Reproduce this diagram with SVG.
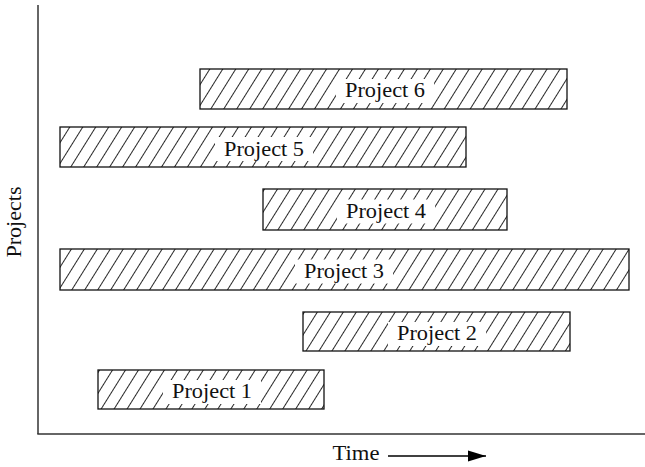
<svg xmlns="http://www.w3.org/2000/svg" width="645" height="467" viewBox="0 0 645 467">
<style>
.bar{fill:url(#hatch);stroke:#111;stroke-width:1.3}
.lbg{fill:#fff;stroke:none}
.lbl{font-family:"Liberation Serif","Times New Roman",serif;font-size:20px;fill:#111;text-anchor:middle}
.axis{stroke:#333;stroke-width:1.5;fill:none}
</style>
<defs>
<pattern id="hatch" patternUnits="userSpaceOnUse" width="11" height="11" patternTransform="rotate(32)">
<rect width="11" height="11" fill="#fff"/>
<line x1="5.5" y1="-1" x2="5.5" y2="12" stroke="#111" stroke-width="0.9"/>
</pattern>
<marker id="arr" markerWidth="18" markerHeight="12" refX="18" refY="6" orient="auto" markerUnits="userSpaceOnUse">
<path d="M0,0.5 L18,6 L0,11.5 Z" fill="#000"/>
</marker>
</defs>
<g id="axes">
<line class="axis" x1="38" y1="5" x2="38" y2="434"/>
<line class="axis" x1="37.3" y1="434" x2="645" y2="434"/>
<text class="lbl" x="0" y="0" transform="translate(21,222) rotate(-90)" textLength="71" lengthAdjust="spacingAndGlyphs">Projects</text>
<text class="lbl" x="356" y="460" textLength="47" lengthAdjust="spacingAndGlyphs">Time</text>
</g>
<g id="connectors">
<line x1="388" y1="456" x2="486" y2="456" stroke="#000" stroke-width="1.5" marker-end="url(#arr)"/>
</g>
<g id="project6">
<rect class="bar" x="200" y="69" width="367" height="40"/>
<rect class="lbg" x="336" y="79" width="98" height="24"/>
<text class="lbl" x="385" y="97" textLength="80" lengthAdjust="spacingAndGlyphs">Project 6</text>
</g>
<g id="project5">
<rect class="bar" x="60" y="127" width="406" height="40"/>
<rect class="lbg" x="215" y="137" width="98" height="24"/>
<text class="lbl" x="264" y="155.5" textLength="80" lengthAdjust="spacingAndGlyphs">Project 5</text>
</g>
<g id="project4">
<rect class="bar" x="263" y="189" width="244" height="41"/>
<rect class="lbg" x="337" y="199.5" width="98" height="24"/>
<text class="lbl" x="386" y="218" textLength="80" lengthAdjust="spacingAndGlyphs">Project 4</text>
</g>
<g id="project3">
<rect class="bar" x="60" y="249" width="569" height="41"/>
<rect class="lbg" x="295" y="259.5" width="98" height="24"/>
<text class="lbl" x="344" y="278" textLength="80" lengthAdjust="spacingAndGlyphs">Project 3</text>
</g>
<g id="project2">
<rect class="bar" x="303" y="312" width="267" height="39"/>
<rect class="lbg" x="388" y="322" width="98" height="24"/>
<text class="lbl" x="437" y="340" textLength="80" lengthAdjust="spacingAndGlyphs">Project 2</text>
</g>
<g id="project1">
<rect class="bar" x="98" y="370" width="226" height="39"/>
<rect class="lbg" x="163" y="380" width="98" height="24"/>
<text class="lbl" x="212" y="398" textLength="80" lengthAdjust="spacingAndGlyphs">Project 1</text>
</g>
</svg>
